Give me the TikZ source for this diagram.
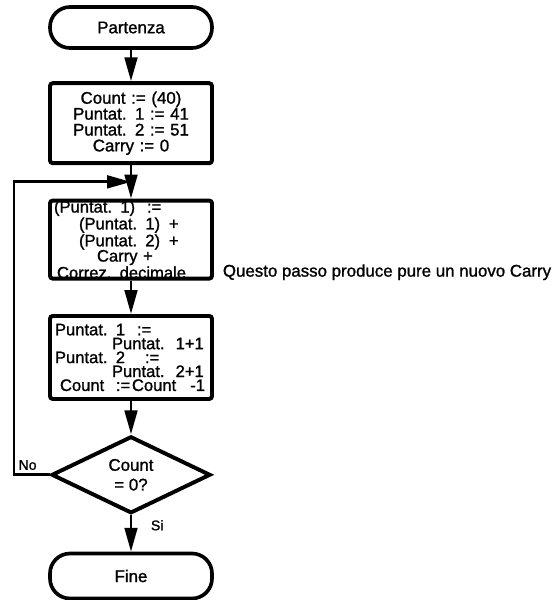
\documentclass[tikz,border=0pt]{standalone}
\usepackage{fontspec}
\setmainfont{Liberation Sans}[FakeBold=1.2]
\usetikzlibrary{shapes.geometric, arrows.meta, positioning, calc}
\setlength{\lineskiplimit}{-20pt}

\begin{document}
\begin{tikzpicture}[
    node distance=0.835cm,
    terminal/.style={rectangle, draw, line width=2.6pt,
                     minimum width=4.05cm, minimum height=1.025cm,
                     rounded corners=0.5cm, font=\fontsize{12}{11}\selectfont},
    box/.style={rectangle, draw, line width=2.8pt,
                text width=3.85cm, inner xsep=0.1cm, inner ysep=0pt,
                rounded corners=2pt},
    decision/.style={diamond, draw, line width=2.8pt, aspect=2,
                     minimum width=3.975cm, minimum height=1.925cm,
                     inner sep=0pt, align=center,
                     font=\fontsize{12}{14}\selectfont},
    arrow/.style={-{Triangle[length=17pt, width=9pt]}, line width=2pt},
    label/.style={font=\fontsize{10}{12}\selectfont},
    note/.style={font=\fontsize{12}{14}\selectfont}
]
\useasboundingbox (0,0) rectangle (13.85,-15);

% Start
\node[terminal] (start) at (3.275,-0.6875) {Partenza};

% Initialisation
\node[box, below=0.785cm of start, minimum height=2cm, align=center,
      font=\fontsize{12}{11.3}\selectfont] (init)
  {Count := (40)\\Puntat. 1 := 41\\Puntat. 2 := 51\\Carry := 0};

% Decimal addition
\node[box, below=of init, minimum height=1.95cm, align=left,
      font=\fontsize{11.8}{10.9}\selectfont] (add)
  {\makebox[2.325cm][l]{(Puntat. 1)}:=\\
   \hspace*{0.625cm}\makebox[2.25cm][l]{(Puntat. 1)}+\\
   \hspace*{0.625cm}\makebox[2.25cm][l]{(Puntat. 2)}+\\
   \hspace*{1.075cm}Carry +\\
   \hspace*{0.075cm}Correz. decimale};
\node[note, anchor=base west] (remark) at ([shift={(0.1,0.1)}]add.south east)
  {Questo passo produce pure un nuovo Carry};

% Pointers and counter
\node[box, below=of add, minimum height=2.075cm, align=left,
      font=\fontsize{11.8}{9.9}\selectfont] (incr)
  {\hspace*{0.025cm}\makebox[2.05cm][l]{Puntat. 1}:=\\
   \hspace*{1.45cm}Puntat.\ \ 1+1\\
   \hspace*{0.025cm}\makebox[2.25cm][l]{Puntat. 2}:=\\
   \hspace*{1.45cm}Puntat.\ \ 2+1\\
   \hspace*{0.15cm}\makebox[1.4cm][l]{Count}\makebox[0.4cm][l]{:=}Count\hspace{0.35cm}-1};

% Test
\node[decision, below=of incr] (test) {Count\\= 0?};
\node[label, anchor=base east] (no) at ([shift={(-0.2,0.125)}]test.west) {No};
\node[label, anchor=base west] (si) at ([shift={(0.375,-0.375)}]test.south) {Si};

% End
\node[terminal, below=0.91cm of test, minimum height=1.125cm] (end) {Fine};

% Arrows
\coordinate (join) at ($(init.south)!0.5!(add.north)$);
\coordinate (loop) at (0.35,0);
\draw[arrow] (start) -- (init);
\draw[arrow] (init) -- (add);
\draw[arrow] (add) -- (incr);
\draw[arrow] (incr) -- (test);
\draw[arrow] (test) -- (end);
\draw[arrow] (test.west) -- (test.west -| loop) |- (join);

\end{tikzpicture}
\end{document}
